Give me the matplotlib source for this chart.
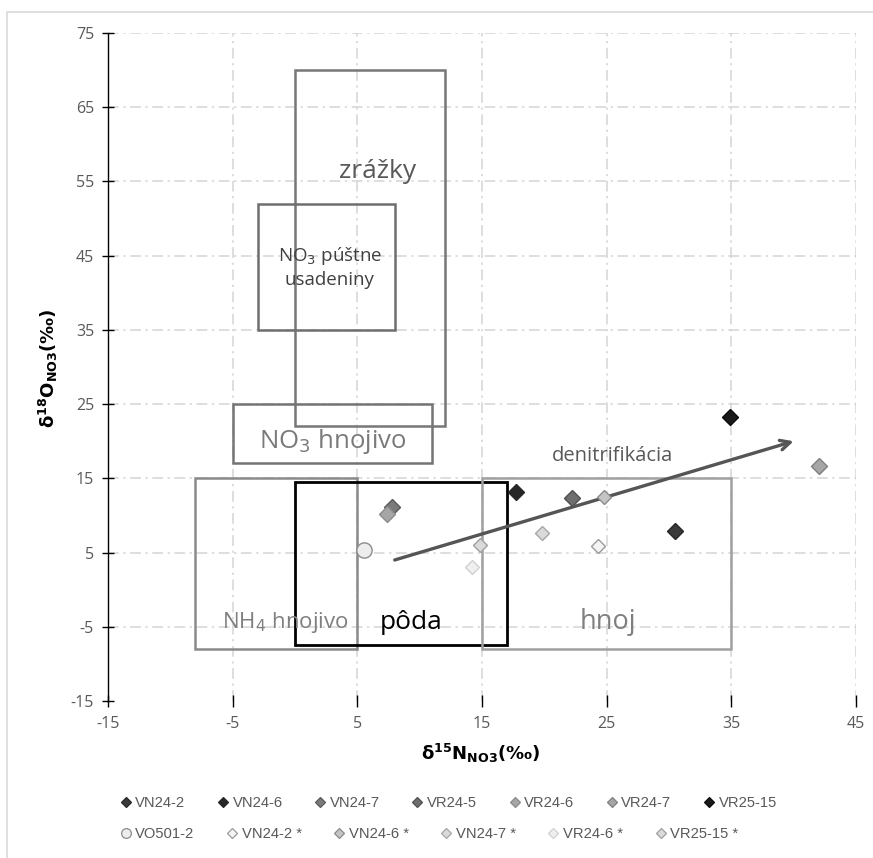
import matplotlib
matplotlib.use("Agg")
import matplotlib.pyplot as plt
from matplotlib.patches import Rectangle
from matplotlib.lines import Line2D

# ---- data ----------------------------------------------------------------
# source fields (boxes): label, x-range, y-range
box_names = ["zrážky", "NO$_3$ púštne\nusadeniny", "NO$_3$ hnojivo",
             "NH$_4$ hnojivo", "pôda", "hnoj"]
box_x0 = [0, -3, -5, -8, 0, 15]
box_x1 = [12, 8, 11, 5, 17, 35]
box_y0 = [22, 35, 17, -8, -7.5, -8]
box_y1 = [70, 52, 25, 15, 14.5, 15]

# measured samples
sample_names = ["VN24-2", "VN24-6", "VN24-7", "VR24-5", "VR24-6", "VR24-7", "VR25-15",
                "VO501-2", "VN24-2 *", "VN24-6 *", "VN24-7 *", "VR24-6 *", "VR25-15 *"]
d15N = [30.5, 17.7, 7.8, 22.2, 7.4, 42.0, 34.9,
        5.5, 24.3, 24.8, 19.8, 14.2, 14.8]
d18O = [7.9, 13.1, 11.1, 12.4, 10.2, 16.7, 23.2,
        5.3, 5.9, 12.5, 7.7, 3.0, 6.0]

# denitrification trend arrow (start, end)
arrow_start = (8, 4)
arrow_end = (40, 20)

x_ticks = [-15, -5, 5, 15, 25, 35, 45]
y_ticks = [-15, -5, 5, 15, 25, 35, 45, 55, 65, 75]

# ---- styles --------------------------------------------------------------
box_edge = ["#777777", "#6e6e6e", "#747474", "#8a8a8a", "#000000", "#a0a0a0"]
box_lw = [1.8, 1.8, 1.8, 1.8, 2.0, 1.8]
box_text_color = ["#595959", "#404040", "#7a7a7a", "#7f7f7f", "#000000", "#7f7f7f"]
box_text_size = [19, 13.5, 18.5, 16, 19, 19.5]
box_text_pos = [(6.6, 56.3), (2.8, 43.5), (3.0, 20.0), (-0.8, -4.4), (9.3, -4.4), (25.1, -4.4)]

sample_marker = ["D"] * 7 + ["o"] + ["D"] * 5
sample_face = ["#3a3a3a", "#262626", "#7a7a7a", "#6e6e6e", "#a6a6a6", "#a6a6a6", "#1a1a1a",
               "#ededed", "#f4f4f4", "#c4c4c4", "#dadada", "#efefef", "#dadada"]
sample_edge = ["#262626", "#262626", "#5a5a5a", "#505050", "#8c8c8c", "#808080", "#0d0d0d",
               "#8c8c8c", "#9a9a9a", "#8c8c8c", "#a6a6a6", "#d0d0d0", "#a0a0a0"]
sample_size = [8, 8, 8, 8, 8, 8, 8, 11, 7.5, 7.5, 7.5, 7.5, 7.5]

plt.rcParams["mathtext.fontset"] = "dejavusans"
plt.rcParams["axes.unicode_minus"] = False

fig = plt.figure(figsize=(8.73, 8.58), dpi=100)
W, H = 873, 858

# light chart-area frame
fig.patches.append(Rectangle((7 / W, -0.1), 1.2, 1 - 12 / H + 0.1,
                             transform=fig.transFigure, fill=False,
                             edgecolor="#d9d9d9", lw=1.2, zorder=0))

ax = fig.add_axes([108 / W, 1 - 701 / H, (856 - 108) / W, (701 - 33) / H])
ax.set_xlim(-15, 45)
ax.set_ylim(-15, 75)
ax.set_xticks(x_ticks)
ax.set_yticks(y_ticks)

for s in ["top", "right", "bottom"]:
    ax.spines[s].set_visible(False)
ax.spines["left"].set_color("black")
ax.spines["left"].set_linewidth(1.0)

grid_kw = dict(color="#d4d4d4", lw=1.1, dashes=(7, 3, 1.5, 3), zorder=0)
for xv in x_ticks[1:]:
    ax.axvline(xv, **grid_kw)
for yv in y_ticks[1:]:
    ax.axhline(yv, **grid_kw)

ax.tick_params(axis="both", direction="inout", length=8, width=1.0, color="black",
               labelcolor="#595959", labelsize=11.5)
ax.tick_params(axis="y", pad=6)
ax.tick_params(axis="x", pad=7)
for lbl in ax.get_xticklabels() + ax.get_yticklabels():
    lbl.set_family("Open Sans")

# source boxes
for i in range(len(box_names)):
    ax.add_patch(Rectangle((box_x0[i], box_y0[i]), box_x1[i] - box_x0[i],
                           box_y1[i] - box_y0[i], fill=False,
                           edgecolor=box_edge[i], lw=box_lw[i], zorder=2))
for i in range(len(box_names)):
    ax.text(box_text_pos[i][0], box_text_pos[i][1], box_names[i],
            ha="center", va="center", color=box_text_color[i],
            fontsize=box_text_size[i], family="Open Sans", zorder=3,
            linespacing=1.25)

# denitrification arrow
ax.annotate("", xy=arrow_end, xytext=arrow_start,
            arrowprops=dict(arrowstyle="->,head_length=0.7,head_width=0.35",
                            color="#555555", lw=2.4, shrinkA=0, shrinkB=0),
            zorder=4)
ax.text(25.5, 18.0, "denitrifikácia", ha="center", va="center",
        color="#595959", fontsize=14.5, family="Open Sans", zorder=4)

# samples
handles = []
for i in range(len(sample_names)):
    ax.plot(d15N[i], d18O[i], linestyle="none", marker=sample_marker[i],
            markersize=sample_size[i], markerfacecolor=sample_face[i],
            markeredgecolor=sample_edge[i], markeredgewidth=1.0, zorder=5)
    handles.append(Line2D([], [], linestyle="none", marker=sample_marker[i],
                          markersize=5.5 if sample_marker[i] == "D" else 7,
                          markerfacecolor=sample_face[i],
                          markeredgecolor=sample_edge[i], markeredgewidth=0.9,
                          label=sample_names[i]))

ax.set_xlabel(r"$\mathbf{\delta^{15}N_{NO3}(‰)}$", fontsize=13, labelpad=0)
ax.set_ylabel(r"$\mathbf{\delta^{18}O_{NO3}(‰)}$", fontsize=13, labelpad=0)
ax.xaxis.set_label_coords((481 - 108) / (856 - 108), -(753 - 701) / (701 - 33))
ax.yaxis.set_label_coords(-(108 - 48) / (856 - 108), (701 - 368) / (701 - 33))
ax.xaxis.label.set_va("center")
ax.yaxis.label.set_va("center")

leg_kw = dict(frameon=False, handlelength=0.8, handletextpad=0.25,
              columnspacing=2.15, borderaxespad=0,
              prop={"family": "Liberation Sans", "size": 10.6},
              labelcolor="#595959")
leg1 = fig.legend(handles=handles[:7], ncol=7, loc="center left",
                  bbox_to_anchor=(114 / W, 1 - 803 / H), **leg_kw)
leg2 = fig.legend(handles=handles[7:], ncol=6, loc="center left",
                  bbox_to_anchor=(114 / W, 1 - 834 / H), **leg_kw)

fig.savefig("out.png", dpi=100)
